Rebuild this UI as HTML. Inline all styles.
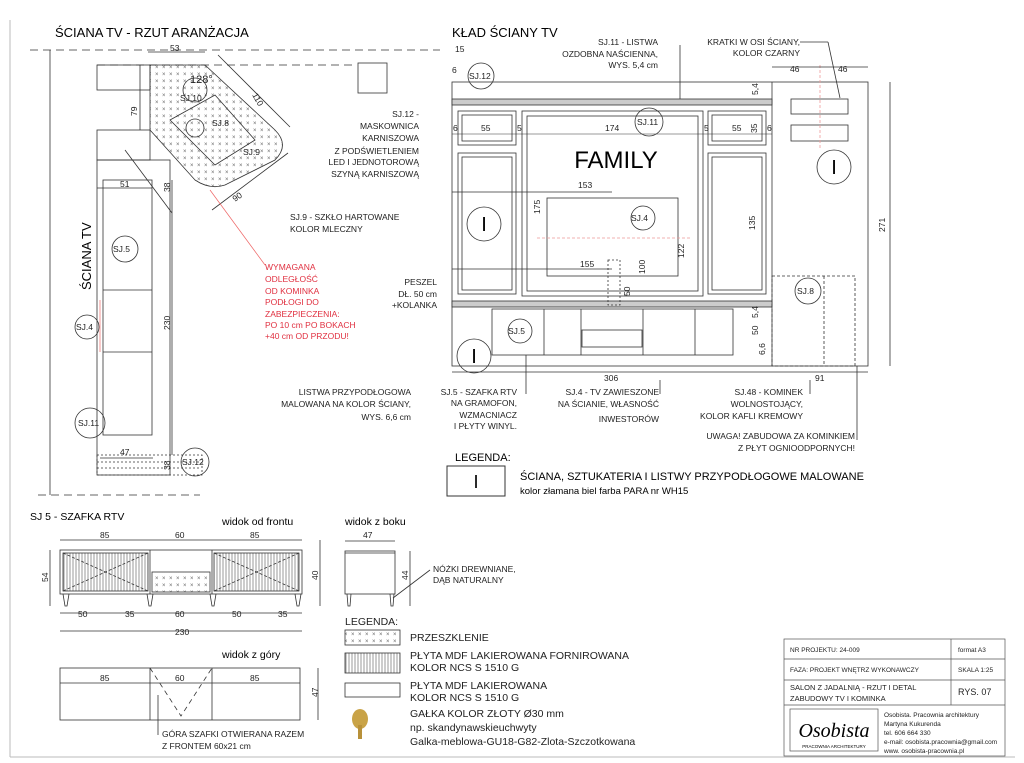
<!DOCTYPE html>
<html><head><meta charset="utf-8"><style>
html,body{margin:0;padding:0;background:#fff}
svg{display:block;font-family:"Liberation Sans",sans-serif}
</style></head><body>
<svg width="1024" height="763" viewBox="0 0 1024 763" xmlns="http://www.w3.org/2000/svg">
<defs>
<pattern id="x" width="7" height="7" patternUnits="userSpaceOnUse"><text x="1" y="6" font-size="6" fill="#666">×</text></pattern>
<pattern id="v" width="3" height="10" patternUnits="userSpaceOnUse"><line x1="1" y1="0" x2="1" y2="10" stroke="#555" stroke-width="0.6"/></pattern>
</defs>
<g stroke="#bbb" fill="none"><line x1="10" y1="20" x2="10" y2="757"/><line x1="10" y1="757" x2="1015" y2="757"/></g>

<!-- LEFT PLAN -->
<text x="55" y="37" font-size="13">ŚCIANA TV - RZUT ARANŻACJA</text>
<g stroke="#333" fill="none" stroke-width="0.8">
<line x1="30" y1="50" x2="440" y2="50" stroke-dasharray="8,5"/>
<line x1="97" y1="65" x2="355" y2="65" stroke-dasharray="8,5"/>
<line x1="50" y1="50" x2="50" y2="495"/>
<line x1="38" y1="495" x2="200" y2="495" stroke-dasharray="8,5"/>
<rect x="358" y="63" width="29" height="30"/>
<rect x="97" y="65" width="53" height="25"/>
<rect x="97" y="130" width="53" height="30"/>
<path d="M150 65 L205 65 L275 130 Q290 145 275 160 L225 185 Q210 190 195 180 L150 130 Z" fill="url(#x)"/>
<path d="M170 120 L215 95 L255 140 L215 165 Z" />
<circle cx="195" cy="90" r="12"/><circle cx="195" cy="128" r="9"/>
<rect x="97" y="160" width="73" height="315"/>
<rect x="103" y="180" width="49" height="255"/>
<line x1="103" y1="290" x2="152" y2="290"/><line x1="103" y1="352" x2="152" y2="352"/>
<rect x="97" y="455" width="105" height="20" stroke-dasharray="2,2"/>
<line x1="97" y1="462" x2="200" y2="462" stroke-dasharray="2,2"/><line x1="97" y1="468" x2="200" y2="468" stroke-dasharray="2,2"/>
<line x1="148" y1="52" x2="205" y2="52"/><line x1="140" y1="65" x2="140" y2="130"/>
<line x1="218" y1="55" x2="290" y2="127"/><line x1="212" y1="210" x2="288" y2="153"/>
<line x1="125" y1="150" x2="172" y2="213"/>
<line x1="97" y1="188" x2="152" y2="188"/><line x1="172" y1="180" x2="172" y2="455"/>
<line x1="100" y1="458" x2="153" y2="458"/>
<circle cx="125" cy="249" r="13"/><circle cx="87" cy="327" r="12"/><circle cx="90" cy="423" r="15"/><circle cx="195" cy="462" r="14"/>
</g>
<line x1="210" y1="190" x2="265" y2="265" stroke="#e66" stroke-width="0.7"/>
<line x1="100" y1="300" x2="100" y2="352" stroke="#e66" stroke-width="0.7"/>
<g font-size="8.5" fill="#222">
<text x="170" y="51">53</text><text x="137" y="116" transform="rotate(-90 137 116)">79</text>
<text x="252" y="95" transform="rotate(60 252 95)">110</text><text x="235" y="202" transform="rotate(-35 235 202)">90</text>
<text x="120" y="187">51</text><text x="170" y="192" transform="rotate(-90 170 192)">38</text>
<text x="170" y="330" transform="rotate(-90 170 330)">230</text><text x="120" y="455">47</text>
<text x="170" y="470" transform="rotate(-90 170 470)">38</text>
<text x="190" y="83" font-size="11">128°</text>
<text x="113" y="252">SJ.5</text><text x="76" y="330">SJ.4</text><text x="78" y="426">SJ.11</text><text x="182" y="465">SJ.12</text>
<text x="180" y="101">SJ.10</text><text x="212" y="126">SJ.8</text><text x="243" y="155">SJ.9</text>
</g>
<text x="91" y="290" font-size="13" transform="rotate(-90 91 290)">ŚCIANA TV</text>
<g font-size="8.5" fill="#222">
<text x="290" y="220">SJ.9 - SZKŁO HARTOWANE</text><text x="290" y="232">KOLOR MLECZNY</text>
<text x="419" y="117" text-anchor="end">SJ.12 -</text><text x="419" y="129" text-anchor="end">MASKOWNICA</text><text x="419" y="141" text-anchor="end">KARNISZOWA</text>
<text x="419" y="154" text-anchor="end">Z PODŚWIETLENIEM</text><text x="419" y="165" text-anchor="end">LED I JEDNOTOROWĄ</text><text x="419" y="177" text-anchor="end">SZYNĄ KARNISZOWĄ</text>
<text x="437" y="285" text-anchor="end">PESZEL</text><text x="437" y="297" text-anchor="end">DŁ. 50 cm</text><text x="437" y="308" text-anchor="end">+KOLANKA</text>
<text x="411" y="395" text-anchor="end">LISTWA PRZYPODŁOGOWA</text><text x="411" y="407" text-anchor="end">MALOWANA NA KOLOR ŚCIANY,</text><text x="411" y="420" text-anchor="end">WYS. 6,6 cm</text>
</g>
<g font-size="8.5" fill="#e03040">
<text x="265" y="270">WYMAGANA</text><text x="265" y="282">ODLEGŁOŚĆ</text><text x="265" y="294">OD KOMINKA</text><text x="265" y="305">PODŁOGI DO</text><text x="265" y="317">ZABEZPIECZENIA:</text><text x="265" y="328">PO 10 cm PO BOKACH</text><text x="265" y="339">+40 cm OD PRZODU!</text>
</g>

<!-- ELEVATION -->
<text x="452" y="37" font-size="13">KŁAD ŚCIANY TV</text>
<g stroke="#333" fill="none" stroke-width="0.8">
<rect x="452" y="82" width="416" height="284"/>
<line x1="772" y1="82" x2="772" y2="366"/>
<rect x="452" y="99" width="320" height="6" fill="#ccc"/>
<rect x="452" y="301" width="320" height="6" fill="#ccc"/>
<rect x="458" y="111" width="58" height="34"/><rect x="462" y="115" width="50" height="26"/>
<rect x="458" y="153" width="58" height="141"/><rect x="462" y="157" width="50" height="133"/>
<rect x="522" y="111" width="181" height="185"/><rect x="527" y="116" width="171" height="175"/>
<rect x="708" y="111" width="58" height="34"/><rect x="712" y="115" width="50" height="26"/>
<rect x="708" y="153" width="58" height="141"/><rect x="712" y="157" width="50" height="133"/>
<rect x="547" y="198" width="131" height="78"/>
<rect x="608" y="260" width="12" height="45" stroke-dasharray="2,2"/>
<rect x="492" y="309" width="241" height="46"/>
<line x1="544" y1="309" x2="544" y2="355"/><line x1="581" y1="309" x2="581" y2="355"/><line x1="643" y1="309" x2="643" y2="355"/><line x1="695" y1="309" x2="695" y2="355"/>
<rect x="582" y="330" width="60" height="17"/>
<rect x="772" y="276" width="83" height="90" stroke-dasharray="3,2"/><line x1="824" y1="276" x2="824" y2="366" stroke-dasharray="3,2"/>
<rect x="791" y="99" width="57" height="15"/><rect x="791" y="125" width="57" height="16"/>
<line x1="820" y1="65" x2="820" y2="150" stroke="#e99" stroke-dasharray="3,2"/>
<line x1="537" y1="238" x2="690" y2="238" stroke="#e99" stroke-dasharray="3,2"/>
<circle cx="484" cy="224" r="17"/><circle cx="834" cy="167" r="17"/><circle cx="474" cy="356" r="17"/>
<circle cx="481" cy="76" r="13"/><circle cx="649" cy="122" r="14"/><circle cx="643" cy="218" r="12"/><circle cx="520" cy="331" r="12"/><circle cx="808" cy="291" r="13"/>
<line x1="452" y1="372" x2="772" y2="372"/><line x1="772" y1="372" x2="868" y2="372"/>
<line x1="890" y1="82" x2="890" y2="366"/>
<line x1="452" y1="192" x2="612" y2="192"/><line x1="452" y1="269" x2="612" y2="269"/>
<line x1="452" y1="134" x2="772" y2="134" stroke-width="0.5"/>
<line x1="772" y1="67" x2="868" y2="67"/>
<line x1="680" y1="45" x2="680" y2="99"/><line x1="800" y1="42" x2="828" y2="42"/><line x1="828" y1="42" x2="840" y2="98"/>
<line x1="526" y1="394" x2="526" y2="355"/><line x1="660" y1="394" x2="660" y2="380"/><line x1="810" y1="394" x2="810" y2="380"/><line x1="857" y1="440" x2="857" y2="366"/>
</g>
<text x="616" y="168" font-size="24" text-anchor="middle">FAMILY</text>
<g font-size="20" text-anchor="middle"><text x="484" y="231">I</text><text x="834" y="174">I</text><text x="474" y="363">I</text></g>
<g font-size="8.5" fill="#222">
<text x="455" y="52">15</text><text x="452" y="73">6</text><text x="469" y="79">SJ.12</text>
<text x="453" y="131">6</text><text x="481" y="131">55</text><text x="517" y="131">5</text><text x="605" y="131">174</text><text x="704" y="131">5</text><text x="732" y="131">55</text><text x="767" y="131">6</text>
<text x="757" y="133" transform="rotate(-90 757 133)">35</text>
<text x="637" y="125">SJ.11</text><text x="631" y="221">SJ.4</text><text x="508" y="334">SJ.5</text><text x="797" y="294">SJ.8</text>
<text x="578" y="188">153</text><text x="580" y="267">155</text>
<text x="540" y="214" transform="rotate(-90 540 214)">175</text><text x="755" y="230" transform="rotate(-90 755 230)">135</text>
<text x="684" y="258" transform="rotate(-90 684 258)">122</text><text x="645" y="274" transform="rotate(-90 645 274)">100</text>
<text x="630" y="296" transform="rotate(-90 630 296)">50</text>
<text x="885" y="232" transform="rotate(-90 885 232)">271</text>
<text x="604" y="381">306</text><text x="815" y="381">91</text><text x="790" y="72">46</text><text x="838" y="72">46</text>
<text x="758" y="95" transform="rotate(-90 758 95)">5,4</text><text x="765" y="355" transform="rotate(-90 765 355)">6,6</text>
<text x="758" y="335" transform="rotate(-90 758 335)">50</text><text x="758" y="318" transform="rotate(-90 758 318)">5,4</text>
<text x="658" y="45" text-anchor="end">SJ.11 - LISTWA</text><text x="658" y="57" text-anchor="end">OZDOBNA NAŚCIENNA,</text><text x="658" y="68" text-anchor="end">WYS. 5,4 cm</text>
<text x="800" y="45" text-anchor="end">KRATKI W OSI ŚCIANY,</text><text x="800" y="56" text-anchor="end">KOLOR CZARNY</text>
<text x="517" y="395" text-anchor="end">SJ.5 - SZAFKA RTV</text><text x="517" y="406" text-anchor="end">NA GRAMOFON,</text><text x="517" y="418" text-anchor="end">WZMACNIACZ</text><text x="517" y="429" text-anchor="end">I PŁYTY WINYL.</text>
<text x="659" y="395" text-anchor="end">SJ.4 - TV ZAWIESZONE</text><text x="659" y="407" text-anchor="end">NA ŚCIANIE, WŁASNOŚĆ</text><text x="659" y="422" text-anchor="end">INWESTORÓW</text>
<text x="803" y="395" text-anchor="end">SJ.48 - KOMINEK</text><text x="803" y="407" text-anchor="end">WOLNOSTOJĄCY,</text><text x="803" y="419" text-anchor="end">KOLOR KAFLI KREMOWY</text>
<text x="855" y="439" text-anchor="end">UWAGA! ZABUDOWA ZA KOMINKIEM</text><text x="855" y="451" text-anchor="end">Z PŁYT OGNIOODPORNYCH!</text>
</g>
<text x="455" y="461" font-size="11">LEGENDA:</text>
<rect x="447" y="466" width="58" height="30" fill="none" stroke="#333"/>
<text x="476" y="488" font-size="18" text-anchor="middle">I</text>
<text x="520" y="480" font-size="11">ŚCIANA, SZTUKATERIA I LISTWY PRZYPODŁOGOWE MALOWANE</text>
<text x="520" y="494" font-size="9.5">kolor złamana biel farba PARA nr WH15</text>

<!-- SJ5 -->
<g font-size="10.5"><text x="30" y="520">SJ 5 - SZAFKA RTV</text><text x="222" y="525">widok od frontu</text><text x="345" y="525">widok z boku</text><text x="222" y="658">widok z  góry</text></g>
<g stroke="#333" fill="none" stroke-width="0.8">
<rect x="60" y="550" width="242" height="44"/>
<rect x="63" y="553" width="85" height="38" fill="url(#v)"/><rect x="214" y="553" width="85" height="38" fill="url(#v)"/>
<line x1="150" y1="550" x2="150" y2="594"/><line x1="212" y1="550" x2="212" y2="594"/>
<rect x="152" y="572" width="58" height="20" fill="url(#x)"/>
<line x1="63" y1="553" x2="148" y2="591" stroke-dasharray="3,2"/><line x1="148" y1="553" x2="63" y2="591" stroke-dasharray="3,2"/>
<line x1="214" y1="553" x2="299" y2="591" stroke-dasharray="3,2"/><line x1="299" y1="553" x2="214" y2="591" stroke-dasharray="3,2"/>
<path d="M63 594 l2 12 h2 l2-12 M147 594 l2 12 h2 l2-12 M210 594 l2 12 h2 l2-12 M295 594 l2 12 h2 l2-12"/>
<rect x="345" y="551" width="50" height="43"/><line x1="345" y1="553" x2="395" y2="553"/>
<path d="M347 594 l1 12 h2 l1-12 M390 594 l1 12 h2 l1-12"/>
<line x1="60" y1="540" x2="302" y2="540"/><line x1="60" y1="613" x2="302" y2="613"/><line x1="60" y1="631" x2="302" y2="631"/>
<line x1="50" y1="550" x2="50" y2="606"/><line x1="320" y1="540" x2="320" y2="606"/>
<line x1="345" y1="541" x2="395" y2="541"/><line x1="410" y1="551" x2="410" y2="606"/>
<rect x="60" y="668" width="240" height="52"/><line x1="150" y1="668" x2="150" y2="720"/><line x1="212" y1="668" x2="212" y2="720"/>
<path d="M150 668 L181 716 L212 668" stroke-dasharray="5,4"/>
<line x1="60" y1="683" x2="300" y2="683"/><line x1="318" y1="668" x2="318" y2="720"/>
<line x1="158" y1="695" x2="158" y2="735"/><line x1="393" y1="598" x2="430" y2="570"/>
<rect x="345" y="630" width="55" height="15" fill="url(#x)"/>
<rect x="345" y="653" width="55" height="20" fill="url(#v)"/>
<rect x="345" y="683" width="55" height="14"/>
</g>
<g font-size="8.5" fill="#222">
<text x="100" y="538">85</text><text x="175" y="538">60</text><text x="250" y="538">85</text><text x="363" y="538">47</text>
<text x="78" y="617">50</text><text x="125" y="617">35</text><text x="175" y="617">60</text><text x="232" y="617">50</text><text x="278" y="617">35</text>
<text x="175" y="635">230</text><text x="100" y="681">85</text><text x="175" y="681">60</text><text x="250" y="681">85</text>
<text x="48" y="582" transform="rotate(-90 48 582)">54</text><text x="318" y="580" transform="rotate(-90 318 580)">40</text><text x="408" y="580" transform="rotate(-90 408 580)">44</text><text x="318" y="697" transform="rotate(-90 318 697)">47</text>
<text x="433" y="572">NÓŻKI DREWNIANE,</text><text x="433" y="583">DĄB NATURALNY</text>
<text x="162" y="737">GÓRA SZAFKI OTWIERANA RAZEM</text><text x="162" y="749">Z FRONTEM 60x21 cm</text>
</g>
<g font-size="10.5" fill="#222">
<text x="345" y="625">LEGENDA:</text>
<text x="410" y="641">PRZESZKLENIE</text>
<text x="410" y="659">PŁYTA MDF LAKIEROWANA FORNIROWANA</text><text x="410" y="671">KOLOR NCS S 1510 G</text>
<text x="410" y="689">PŁYTA MDF LAKIEROWANA</text><text x="410" y="701">KOLOR NCS S 1510 G</text>
<text x="410" y="717">GAŁKA KOLOR ZŁOTY Ø30 mm</text><text x="410" y="731">np. skandynawskieuchwyty</text><text x="410" y="745">Galka-meblowa-GU18-G82-Zlota-Szczotkowana</text>
</g>
<ellipse cx="360" cy="719" rx="8" ry="10" fill="#c9a347"/><rect x="358" y="725" width="4" height="14" fill="#b8913a"/>

<!-- TITLE BLOCK -->
<g stroke="#555" fill="none" stroke-width="0.7">
<rect x="784" y="639" width="221" height="117"/>
<line x1="784" y1="659" x2="1005" y2="659"/><line x1="784" y1="680" x2="1005" y2="680"/><line x1="784" y1="705" x2="1005" y2="705"/>
<line x1="951" y1="639" x2="951" y2="705"/>
<rect x="790" y="709" width="88" height="42"/>
</g>
<g font-size="6.5" fill="#222">
<text x="790" y="652">NR PROJEKTU: 24-009</text><text x="958" y="652">format A3</text>
<text x="790" y="672">FAZA: PROJEKT WNĘTRZ WYKONAWCZY</text><text x="958" y="672">SKALA 1:25</text>
<text x="790" y="690" font-size="7.5">SALON Z JADALNIĄ - RZUT I DETAL</text><text x="790" y="701" font-size="7.5">ZABUDOWY TV I KOMINKA</text><text x="958" y="695" font-size="9">RYS. 07</text>
<text x="884" y="717">Osobista. Pracownia architektury</text><text x="884" y="726">Martyna Kukurenda</text><text x="884" y="735">tel. 606 664 330</text><text x="884" y="744">e-mail: osobista.pracownia@gmail.com</text><text x="884" y="753">www. osobista-pracownia.pl</text>
</g>
<text x="834" y="737" font-size="20" font-family="Liberation Serif,serif" font-style="italic" text-anchor="middle">Osobista</text>
<text x="834" y="748" font-size="4.5" text-anchor="middle">PRACOWNIA ARCHITEKTURY</text>
</svg>
</body></html>
